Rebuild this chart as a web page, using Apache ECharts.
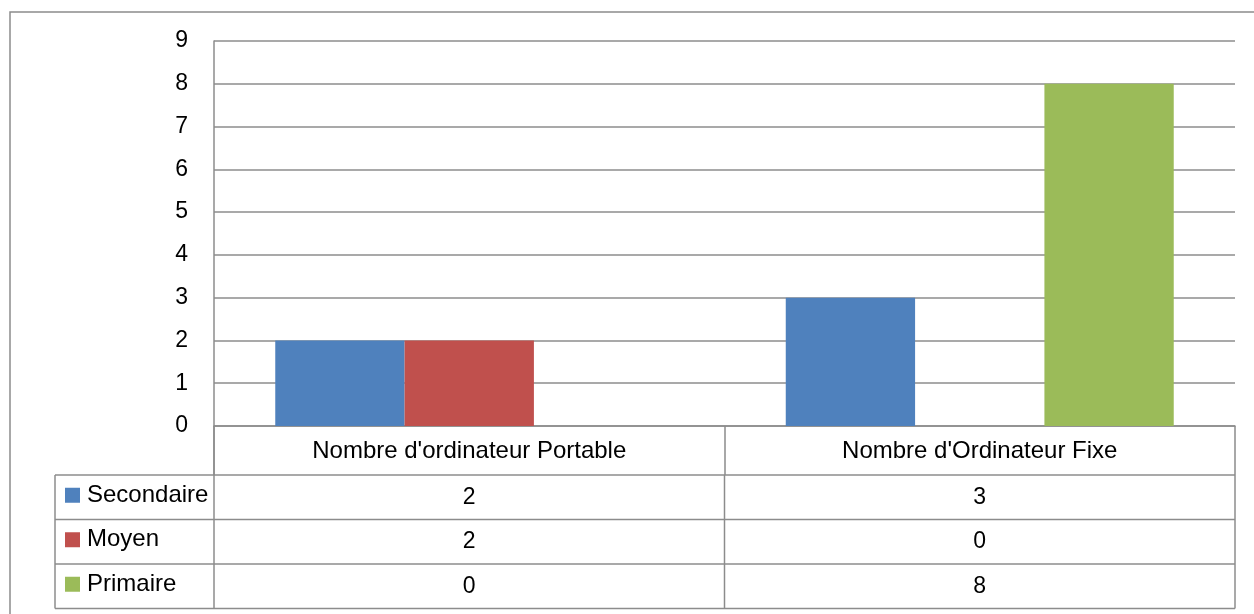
<!DOCTYPE html>
<html>
<head>
<meta charset="utf-8">
<script src="https://cdn.jsdelivr.net/npm/echarts@6/dist/echarts.min.js"></script>
<style>
  html, body { margin: 0; padding: 0; background: #ffffff; }
  #chart { width: 1254px; height: 614px; }
</style>
</head>
<body>
<div id="chart"></div>
<script>
// Equipment counts per school level
const categories = ["Nombre d'ordinateur Portable", "Nombre d'Ordinateur Fixe"];
const seriesNames = ['Secondaire', 'Moyen', 'Primaire'];
const secondaire = [2, 3];
const moyen = [2, 0];
const primaire = [0, 8];
const yMin = 0;
const yMax = 9;
const yStep = 1;

const seriesValues = [secondaire, moyen, primaire];
const colors = ['#4F81BD', '#C0504D', '#9BBB59'];
const lineColor = '#8c8c8c';
const lineW = 1.5;
const fontFamily = "'Liberation Sans', Arial, sans-serif";
const numSize = 23;
const textSize = 24;

// Layout of the plot area and the data table underneath
const plot = { left: 214, top: 41, width: 1021, height: 385 };
const headerH = 49;
const rowH = 44.5;
const legendColLeft = 55;

const chart = echarts.init(document.getElementById('chart'), null, { renderer: 'canvas' });

const option = {
  animation: false,
  backgroundColor: '#ffffff',
  textStyle: { fontFamily: fontFamily },
  grid: { left: plot.left, top: plot.top, width: plot.width, height: plot.height, containLabel: false },
  legend: {
    orient: 'vertical',
    left: 65,
    top: plot.top + plot.height + headerH + rowH / 2 - 14,
    padding: 0,
    itemWidth: 15,
    itemHeight: 15,
    itemGap: rowH - 24,
    icon: 'rect',
    selectedMode: false,
    textStyle: { fontSize: textSize, color: '#000', lineHeight: 24, fontFamily: fontFamily, padding: [0, 0, 0, 2] },
    data: seriesNames
  },
  xAxis: {
    type: 'category',
    data: categories,
    axisLine: { show: true, lineStyle: { color: lineColor, width: lineW } },
    axisTick: { show: true, interval: 0, length: headerH, lineStyle: { color: lineColor, width: lineW } },
    axisLabel: { fontSize: textSize, color: '#000', margin: 13, fontFamily: fontFamily, interval: 0 },
    splitLine: { show: false }
  },
  yAxis: {
    type: 'value',
    min: yMin,
    max: yMax,
    interval: yStep,
    axisLine: { show: true, lineStyle: { color: lineColor, width: lineW } },
    axisTick: { show: false },
    axisLabel: { fontSize: numSize, color: '#000', margin: 26, fontFamily: fontFamily },
    splitLine: { show: true, lineStyle: { color: lineColor, width: lineW } }
  },
  series: seriesNames.map((name, i) => ({
    name: name,
    type: 'bar',
    data: seriesValues[i],
    barGap: '0%',
    barCategoryGap: '24%',
    itemStyle: { color: colors[i] }
  }))
};

chart.setOption(option);

// Data table under the axis: grid lines and cell values, placed from the axis scale
const x0 = chart.convertToPixel({ xAxisIndex: 0 }, 0);
const x1 = chart.convertToPixel({ xAxisIndex: 0 }, 1);
const half = (x1 - x0) / 2;
const leftEdge = x0 - half;
const rightEdge = x1 + half;
const axisY = chart.convertToPixel({ yAxisIndex: 0 }, yMin);
const headerBottom = axisY + headerH;
const tableBottom = headerBottom + rowH * seriesNames.length;

const lineStyle = { stroke: lineColor, lineWidth: lineW };
const elements = [];

// outer frame
elements.push({ type: 'rect', shape: { x: 10, y: 12, width: 1270, height: 640 }, style: { fill: 'none', stroke: lineColor, lineWidth: 1.5 }, silent: true });

// horizontal row lines
for (let r = 0; r <= seriesNames.length; r++) {
  const y = headerBottom + r * rowH;
  elements.push({ type: 'line', shape: { x1: legendColLeft, y1: y, x2: rightEdge, y2: y }, style: lineStyle, silent: true });
}
// vertical lines
elements.push({ type: 'line', shape: { x1: legendColLeft, y1: headerBottom, x2: legendColLeft, y2: tableBottom }, style: lineStyle, silent: true });
elements.push({ type: 'line', shape: { x1: leftEdge, y1: axisY, x2: leftEdge, y2: tableBottom }, style: lineStyle, silent: true });
elements.push({ type: 'line', shape: { x1: x0 + half, y1: headerBottom, x2: x0 + half, y2: tableBottom }, style: lineStyle, silent: true });
elements.push({ type: 'line', shape: { x1: rightEdge, y1: headerBottom, x2: rightEdge, y2: tableBottom }, style: lineStyle, silent: true });

// cell values
seriesValues.forEach((vals, r) => {
  const cy = headerBottom + r * rowH + rowH / 2;
  vals.forEach((v, c) => {
    elements.push({
      type: 'text',
      x: chart.convertToPixel({ xAxisIndex: 0 }, c),
      y: cy,
      style: { text: String(v), fontSize: numSize, fontFamily: fontFamily, fill: '#000', align: 'center', verticalAlign: 'middle' },
      silent: true
    });
  });
});

chart.setOption({ graphic: { elements: elements } });
</script>
</body>
</html>
